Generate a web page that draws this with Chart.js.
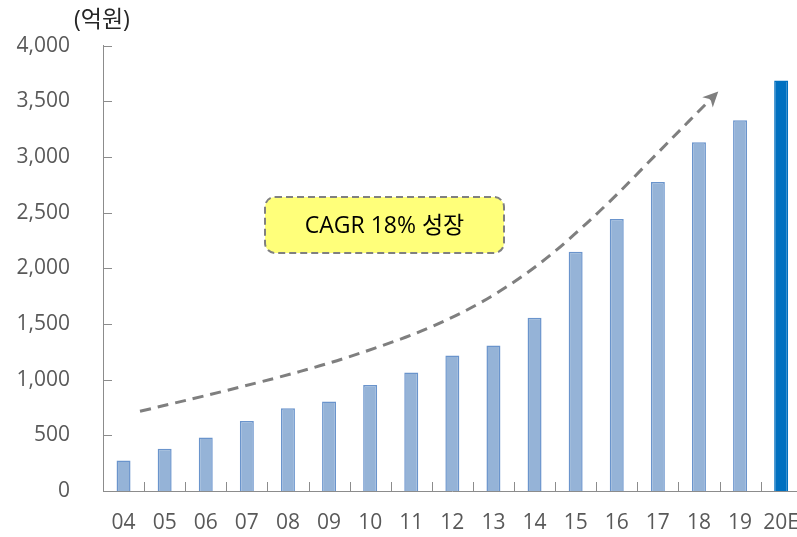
<!DOCTYPE html>
<html>
<head>
<meta charset="utf-8">
<script src="https://cdn.jsdelivr.net/npm/chart.js@4.4.1/dist/chart.umd.min.js"></script>
<style>
    body { margin: 0; background: #fff; overflow: hidden; }
    #wrap { width: 818px; height: 537px; }
</style>
</head>
<body>
<div id="wrap"><canvas id="chart"></canvas></div>
<script>
const years = ["04", "05", "06", "07", "08", "09", "10", "11", "12", "13", "14", "15", "16", "17", "18", "19", "20E"];
const sales = [275, 379, 480, 629, 743, 803, 951, 1065, 1217, 1306, 1557, 2148, 2443, 2774, 3132, 3329, 3687];
const yTicks = [0, 500, 1000, 1500, 2000, 2500, 3000, 3500, 4000];
// dashed trend arrow path, in (category index, value) units
const trendX = [0.40, 3.08, 5.52, 7.96, 9.91, 11.62, 13.08, 14.47];
const trendY = [716, 949, 1199, 1530, 1960, 2515, 3069, 3588];
const cagrText = "CAGR 18% 성장";
const unitText = "(억원)";

const FONT = "'Open Sans', 'Noto Sans CJK KR', sans-serif";

const fills = years.map((y, i) => i === years.length - 1 ? "#0070C0" : "#95B3D7");
const borders = years.map((y, i) => i === years.length - 1 ? "#0070C0" : "#6A94CC");

const extras = {
    id: "extras",
    afterDraw(chart) {
        const ctx = chart.ctx;
        const xs = chart.scales.x;
        const ys = chart.scales.y;
        const area = chart.chartArea;
        ctx.save();

        // inward tick marks on y axis
        ctx.strokeStyle = "#8C8C8C";
        ctx.lineWidth = 1;
        yTicks.forEach(v => {
            const py = Math.round(ys.getPixelForValue(v)) + 0.5;
            ctx.beginPath();
            ctx.moveTo(area.left, py);
            ctx.lineTo(area.left + 9, py);
            ctx.stroke();
        });
        // tick marks between categories on x axis
        const step = xs.width / years.length;
        for (let i = 1; i < years.length; i++) {
            const px = Math.round(area.left + step * i) + 0.5;
            ctx.beginPath();
            ctx.moveTo(px, area.bottom);
            ctx.lineTo(px, area.bottom - 9);
            ctx.stroke();
        }

        // unit label
        ctx.fillStyle = "#262626";
        ctx.font = "23px " + FONT;
        ctx.textAlign = "left";
        ctx.textBaseline = "middle";
        ctx.fillText(unitText, 74, 20);

        // dashed trend curve
        const pts = trendX.map((v, i) => ({
            x: xs.getPixelForValue(v),
            y: ys.getPixelForValue(trendY[i])
        }));
        ctx.strokeStyle = "#7F7F7F";
        ctx.lineWidth = 3;
        ctx.setLineDash([11, 7]);
        ctx.beginPath();
        ctx.moveTo(pts[0].x, pts[0].y);
        for (let i = 1; i < pts.length - 1; i++) {
            const mx = (pts[i].x + pts[i + 1].x) / 2;
            const my = (pts[i].y + pts[i + 1].y) / 2;
            ctx.quadraticCurveTo(pts[i].x, pts[i].y, mx, my);
        }
        const last = pts[pts.length - 1];
        const prev = pts[pts.length - 2];
        const ang = Math.atan2(last.y - prev.y, last.x - prev.x);
        ctx.lineTo(last.x - 8 * Math.cos(ang), last.y - 8 * Math.sin(ang));
        ctx.stroke();
        ctx.setLineDash([]);
        // arrow head
        ctx.fillStyle = "#7F7F7F";
        ctx.beginPath();
        ctx.moveTo(last.x, last.y);
        ctx.lineTo(last.x - 17 * Math.cos(ang - 0.45), last.y - 17 * Math.sin(ang - 0.45));
        ctx.lineTo(last.x - 11 * Math.cos(ang), last.y - 11 * Math.sin(ang));
        ctx.lineTo(last.x - 17 * Math.cos(ang + 0.45), last.y - 17 * Math.sin(ang + 0.45));
        ctx.closePath();
        ctx.fill();

        // CAGR box
        const bx = 265, by = 197, bw = 239, bh = 56;
        ctx.fillStyle = "#FFFF7A";
        ctx.strokeStyle = "#808080";
        ctx.lineWidth = 2;
        ctx.setLineDash([7, 4]);
        ctx.beginPath();
        ctx.roundRect(bx, by, bw, bh, 10);
        ctx.fill();
        ctx.stroke();
        ctx.setLineDash([]);
        ctx.fillStyle = "#000";
        ctx.font = "23px " + FONT;
        ctx.textAlign = "center";
        ctx.textBaseline = "middle";
        ctx.fillText(cagrText, bx + bw / 2, by + bh / 2 + 1);

        ctx.restore();
    }
};

new Chart(document.getElementById("chart"), {
    type: "bar",
    data: {
        labels: years,
        datasets: [{
            data: sales,
            backgroundColor: fills,
            borderColor: borders,
            borderWidth: 1.5,
            barPercentage: 0.34,
            categoryPercentage: 1
        }]
    },
    options: {
        responsive: true,
        maintainAspectRatio: false,
        animation: false,
        layout: { padding: { top: 41, right: 0, left: 0, bottom: 0 } },
        plugins: {
            legend: { display: false },
            tooltip: { enabled: false }
        },
        scales: {
            x: {
                grid: { display: false, drawTicks: false },
                border: { display: true, color: "#8C8C8C", width: 1 },
                ticks: { color: "#595959", font: { size: 21, family: FONT }, padding: 19, maxRotation: 0 },
                afterFit: s => { s.height = 46; }
            },
            y: {
                min: 0,
                max: 4000,
                afterBuildTicks: s => { s.ticks = yTicks.map(v => ({ value: v })); },
                grid: { display: false, drawTicks: false },
                border: { display: true, color: "#8C8C8C", width: 1 },
                ticks: {
                    color: "#595959",
                    font: { size: 21, family: FONT },
                    padding: 33,
                    callback: v => v.toLocaleString("en-US")
                },
                afterFit: s => { s.width = 103; }
            }
        }
    },
    plugins: [extras]
});
</script>
</body>
</html>
